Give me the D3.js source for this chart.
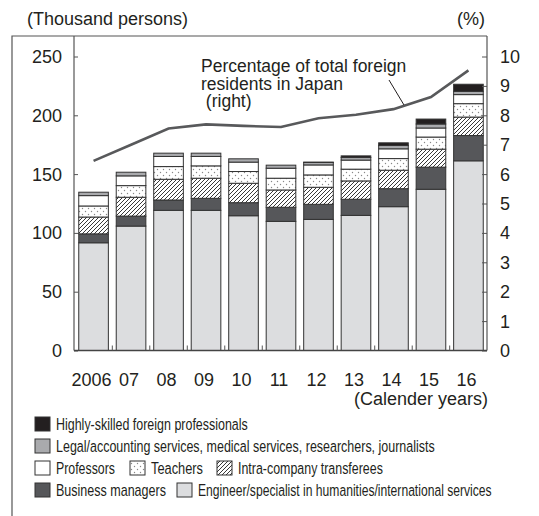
<!DOCTYPE html>
<html>
<head>
<meta charset="utf-8">
<script src="https://cdn.jsdelivr.net/npm/d3@7"></script>
<style>
  body { margin: 0; background: #fff; }
  svg { font-family: "Liberation Sans", Arial, sans-serif; }
</style>
</head>
<body>
<svg id="chart" width="539" height="516"></svg>
<script>
var years = ["2006", "07", "08", "09", "10", "11", "12", "13", "14", "15", "16"];
// thousand persons, bottom to top
var engineer      = [91.6, 105.8, 119.2, 119.2, 114.6, 109.8, 111.5, 114.9, 122.3, 137.1, 161.3];
var businessMgr   = [7.6, 8.5, 8.8, 10.2, 11.1, 12.0, 12.8, 13.7, 15.3, 18.8, 21.5];
var intraCompany  = [14.3, 16.0, 17.6, 17.1, 16.5, 14.7, 14.5, 15.6, 15.7, 15.3, 15.7];
var teachers      = [9.4, 9.9, 10.8, 10.5, 10.0, 10.0, 10.5, 10.0, 9.9, 10.3, 11.4];
var professors    = [8.8, 8.3, 8.6, 8.0, 8.0, 8.5, 8.5, 7.7, 8.3, 7.7, 7.7];
var legal         = [2.9, 3.1, 2.8, 2.8, 2.8, 2.6, 2.1, 2.2, 2.8, 3.4, 2.8];
var highlySkilled = [0, 0, 0, 0, 0, 0, 0.3, 1.4, 2.3, 4.2, 6.0];
// % of total foreign residents (right axis)
var pctForeign = [6.45, 7.0, 7.55, 7.69, 7.64, 7.6, 7.9, 8.02, 8.21, 8.62, 9.53];

var leftTicks = [0, 50, 100, 150, 200, 250];
var rightTicks = [0, 1, 2, 3, 4, 5, 6, 7, 8, 9, 10];

var keys = ["engineer", "businessMgr", "intraCompany", "teachers", "professors", "legal", "highlySkilled"];
var fills = {
    engineer: "#dcdddf",
    businessMgr: "#56575a",
    intraCompany: "url(#hatch)",
    teachers: "url(#dots)",
    professors: "#ffffff",
    legal: "#a9aaad",
    highlySkilled: "#231f20"
};

var rows = years.map((y, i) => ({
    year: y,
    engineer: engineer[i],
    businessMgr: businessMgr[i],
    intraCompany: intraCompany[i],
    teachers: teachers[i],
    professors: professors[i],
    legal: legal[i],
    highlySkilled: highlySkilled[i]
}));

// plot box (note: "top" is reserved on window, so use plotTop)
var plotLeft = 74, plotRight = 487, plotTop = 36, plotBottom = 350.5;

var svg = d3.select("#chart");

var defs = svg.append("defs");
var hatch = defs.append("pattern")
    .attr("id", "hatch")
    .attr("patternUnits", "userSpaceOnUse")
    .attr("width", 4).attr("height", 4);
hatch.append("rect").attr("width", 4).attr("height", 4).attr("fill", "#fff");
hatch.append("path")
    .attr("d", "M-1,1 l2,-2 M0,4 l4,-4 M3,5 l2,-2")
    .attr("stroke", "#222").attr("stroke-width", 0.9);

var dots = defs.append("pattern")
    .attr("id", "dots")
    .attr("patternUnits", "userSpaceOnUse")
    .attr("width", 6).attr("height", 6);
dots.append("rect").attr("width", 6).attr("height", 6).attr("fill", "#fff");
dots.append("circle").attr("cx", 1.5).attr("cy", 1.5).attr("r", 0.7).attr("fill", "#888");
dots.append("circle").attr("cx", 4.5).attr("cy", 4.5).attr("r", 0.7).attr("fill", "#888");

var x = d3.scaleBand()
    .domain(years)
    .range([75, 487])
    .paddingInner(0.21)
    .paddingOuter(0.1);

var yLeft = d3.scaleLinear().domain([0, 250]).range([plotBottom, 56.5]);
var yRight = d3.scaleLinear().domain([0, 10]).range([plotBottom, 56.5]);

// frame
svg.append("path")
    .attr("d", "M12,516 V" + plotTop + " H" + plotRight)
    .attr("fill", "none").attr("stroke", "#555").attr("stroke-width", 1.2);

// stacked bars
var series = d3.stack().keys(keys)(rows);
svg.append("g").selectAll("g")
    .data(series)
    .enter().append("g")
    .attr("fill", (d) => fills[d.key])
    .selectAll("rect")
    .data((d) => d.filter((p) => p[1] - p[0] > 0))
    .enter().append("rect")
    .attr("x", (d) => x(d.data.year))
    .attr("width", x.bandwidth())
    .attr("y", (d) => yLeft(d[1]))
    .attr("height", (d) => yLeft(d[0]) - yLeft(d[1]))
    .attr("stroke", "#333")
    .attr("stroke-width", 1);

// axes lines
svg.append("line").attr("x1", plotLeft).attr("x2", plotLeft).attr("y1", plotTop).attr("y2", plotBottom)
    .attr("stroke", "#555").attr("stroke-width", 1.2);
svg.append("line").attr("x1", plotRight).attr("x2", plotRight).attr("y1", plotTop).attr("y2", plotBottom)
    .attr("stroke", "#555").attr("stroke-width", 1.2);

var leftAxis = svg.append("g")
    .attr("transform", "translate(" + plotLeft + ",0)")
    .call(d3.axisRight(yLeft).tickValues(leftTicks).tickSize(4).tickFormat(""));
leftAxis.select(".domain").remove();
leftAxis.selectAll("line").attr("stroke", "#555");

svg.append("g").selectAll("text")
    .data(leftTicks)
    .enter().append("text")
    .attr("x", 62)
    .attr("y", (d) => yLeft(d))
    .attr("dy", "0.36em")
    .attr("text-anchor", "end")
    .attr("font-size", 18)
    .attr("fill", "#231f20")
    .text((d) => d);

var rightAxis = svg.append("g")
    .attr("transform", "translate(" + plotRight + ",0)")
    .call(d3.axisLeft(yRight).tickValues(rightTicks).tickSize(5).tickFormat(""));
rightAxis.select(".domain").remove();
rightAxis.selectAll("line").attr("stroke", "#555");

svg.append("g").selectAll("text")
    .data(rightTicks)
    .enter().append("text")
    .attr("x", 500)
    .attr("y", (d) => yRight(d))
    .attr("dy", "0.36em")
    .attr("font-size", 18)
    .attr("fill", "#231f20")
    .text((d) => d);

// bottom axis with ticks between bars
var step = x.step();
svg.append("line").attr("x1", plotLeft).attr("x2", plotRight).attr("y1", plotBottom).attr("y2", plotBottom)
    .attr("stroke", "#444").attr("stroke-width", 1.5);
svg.append("g").selectAll("line")
    .data(years.slice(1))
    .enter().append("line")
    .attr("x1", (d) => x(d) - (step - x.bandwidth()) / 2)
    .attr("x2", (d) => x(d) - (step - x.bandwidth()) / 2)
    .attr("y1", plotBottom)
    .attr("y2", plotBottom - 5)
    .attr("stroke", "#555");

svg.append("g").selectAll("text")
    .data(years)
    .enter().append("text")
    .attr("x", (d) => x(d) + x.bandwidth() / 2 - 2)
    .attr("y", 386)
    .attr("text-anchor", "middle")
    .attr("font-size", 18)
    .attr("fill", "#231f20")
    .text((d) => d);

svg.append("text")
    .attr("x", 488).attr("y", 405)
    .attr("text-anchor", "end")
    .attr("font-size", 18).attr("fill", "#231f20")
    .text("(Calender years)");

// axis titles
svg.append("text")
    .attr("x", 27).attr("y", 25)
    .attr("font-size", 18).attr("fill", "#231f20")
    .text("(Thousand persons)");
svg.append("text")
    .attr("x", 485).attr("y", 25)
    .attr("text-anchor", "end")
    .attr("font-size", 18).attr("fill", "#231f20")
    .text("(%)");

// percentage line
var line = d3.line()
    .x((d, i) => x(years[i]) + x.bandwidth() / 2)
    .y((d) => yRight(d));
svg.append("path")
    .datum(pctForeign)
    .attr("d", line)
    .attr("fill", "none")
    .attr("stroke", "#58595b")
    .attr("stroke-width", 2.6);

// annotation
var note = ["Percentage of total foreign", "residents in Japan", " (right)"];
svg.append("g").selectAll("text")
    .data(note)
    .enter().append("text")
    .attr("x", 201)
    .attr("y", (d, i) => 72 + i * 17.5)
    .attr("font-size", 17.5)
    .attr("fill", "#231f20")
    .style("white-space", "pre")
    .text((d) => d);
svg.append("line")
    .attr("x1", 389).attr("y1", 80).attr("x2", 404).attr("y2", 105)
    .attr("stroke", "#231f20").attr("stroke-width", 1);

// legend (condensed look: squeeze each label horizontally to its width)
var legendItems = [
    {key: "highlySkilled", label: "Highly-skilled foreign professionals", x: 35, row: 0, w: 192},
    {key: "legal", label: "Legal/accounting services, medical services, researchers, journalists", x: 35, row: 1, w: 379},
    {key: "professors", label: "Professors", x: 35, row: 2, w: 59},
    {key: "teachers", label: "Teachers", x: 130, row: 2, w: 52},
    {key: "intraCompany", label: "Intra-company transferees", x: 217, row: 2, w: 145},
    {key: "businessMgr", label: "Business managers", x: 35, row: 3, w: 110},
    {key: "engineer", label: "Engineer/specialist in humanities/international services", x: 177, row: 3, w: 294}
];
var legend = svg.append("g").selectAll("g")
    .data(legendItems)
    .enter().append("g")
    .attr("transform", (d) => "translate(" + d.x + "," + (424 + d.row * 22) + ")");
legend.append("rect")
    .attr("x", 0).attr("y", -7)
    .attr("width", 15).attr("height", 14)
    .attr("fill", (d) => fills[d.key])
    .attr("stroke", "#333").attr("stroke-width", 1);
legend.append("text")
    .attr("y", 6)
    .attr("font-size", 17)
    .attr("fill", "#231f20")
    .text((d) => d.label)
    .attr("transform", function(d) {
        var natural = this.getComputedTextLength();
        return "translate(21,0) scale(" + (d.w / natural) + ",1)";
    });
</script>
</body>
</html>
